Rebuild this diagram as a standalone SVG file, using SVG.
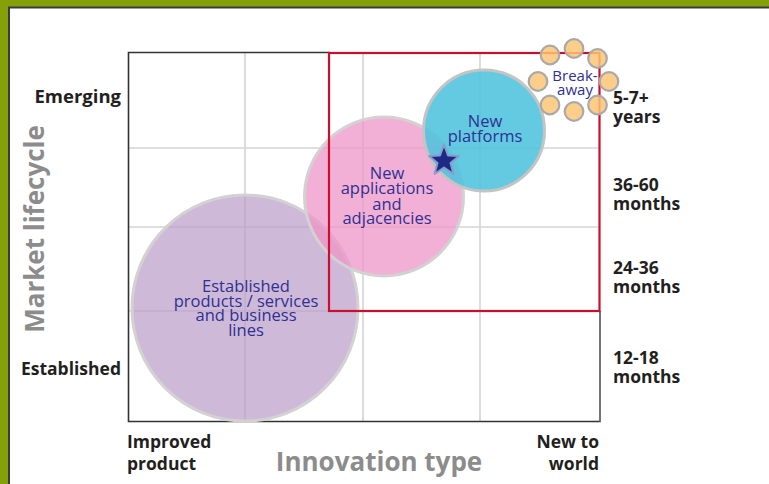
<svg xmlns="http://www.w3.org/2000/svg" width="769" height="484" viewBox="0 0 769 484">
  <style>
    .axis-label { font-family: "Open Sans", "Noto Sans", sans-serif; font-weight: 700; fill: #231f20; font-size: 17.5px; }
    .axis-title { font-family: "Open Sans", "Noto Sans", sans-serif; font-weight: 700; fill: #8c8c8c; font-size: 26px; }
    .bubble-text { font-family: "Open Sans", "Noto Sans", sans-serif; font-weight: 400; fill: #2e3192; font-size: 16.5px; text-anchor: middle; }
    .grid { stroke: #d4d4d4; stroke-width: 1.6; fill: none; }
    .bubble { stroke: #d2d2d2; stroke-width: 3; }
    .dot { fill: #fdc676; fill-opacity: 0.85; stroke: #a9a9a9; stroke-width: 2.2; }
  </style>

  <!-- page frame -->
  <rect x="0" y="0" width="769" height="484" fill="#86a009"/>
  <rect x="9" y="8" width="770" height="490" fill="#ffffff"/>
  <path d="M9 484 V7.5 H769" fill="none" stroke="#3c3c3c" stroke-width="2"/>

  <!-- grid -->
  <g id="grid">
    <line class="grid" x1="245" y1="53" x2="245" y2="421"/>
    <line class="grid" x1="363" y1="53" x2="363" y2="421"/>
    <line class="grid" x1="480" y1="53" x2="480" y2="421"/>
    <line class="grid" x1="128" y1="148" x2="600" y2="148"/>
    <line class="grid" x1="128" y1="227" x2="600" y2="227"/>
    <line class="grid" x1="128" y1="311" x2="600" y2="311"/>
  </g>

  <!-- plot frame -->
  <path d="M600 311 V421.5 H128.5 V52.5 H330" fill="none" stroke="#333333" stroke-width="1.6"/>
  <line x1="600" y1="311" x2="600" y2="421.5" stroke="#7a7a7a" stroke-width="1.6"/>

  <!-- bubbles -->
  <g id="established">
    <circle class="bubble" cx="245" cy="308" r="113" fill="#ba9bc8" fill-opacity="0.7"/>
    <text class="bubble-text" x="246" y="291.5">Established</text>
    <text class="bubble-text" x="246" y="306.5">products / services</text>
    <text class="bubble-text" x="246" y="321">and business</text>
    <text class="bubble-text" x="246" y="335.5">lines</text>
  </g>

  <g id="new-applications">
    <circle class="bubble" cx="384" cy="196.5" r="79.5" fill="#ef96c8" fill-opacity="0.75"/>
    <text class="bubble-text" x="387" y="178.5">New</text>
    <text class="bubble-text" x="387" y="194">applications</text>
    <text class="bubble-text" x="387" y="209.5">and</text>
    <text class="bubble-text" x="387" y="224">adjacencies</text>
  </g>

  <g id="new-platforms">
    <circle cx="484" cy="130.5" r="60.5" fill="#4fc3de" fill-opacity="0.88" stroke="#c4c4c4" stroke-width="3"/>
    <text class="bubble-text" x="485" y="127">New</text>
    <text class="bubble-text" x="485" y="141.5">platforms</text>
  </g>

  <!-- focus region -->
  <rect id="focus-region" x="329" y="53" width="270.5" height="258" fill="none" stroke="#c8102e" stroke-width="2.2"/>

  <!-- star marker -->
  <g id="star">
    <polygon points="444,144.5 448,155.5 459,156 450.5,163 453.5,174 444,167.5 434.5,174 437.5,163 429,156 440,155.5"
      fill="#1c2a85" stroke="#8a9ccc" stroke-width="2" stroke-linejoin="round"/>
  </g>

  <!-- break-away cluster -->
  <g id="break-away">
    <circle class="dot" cx="550" cy="55" r="9.3"/>
    <circle class="dot" cx="574" cy="48.5" r="9.3"/>
    <circle class="dot" cx="597.5" cy="58.5" r="9.3"/>
    <circle class="dot" cx="538" cy="81.5" r="9.3"/>
    <circle class="dot" cx="609" cy="81.5" r="9.3"/>
    <circle class="dot" cx="550" cy="105" r="9.3"/>
    <circle class="dot" cx="574" cy="111.5" r="9.3"/>
    <circle class="dot" cx="597.5" cy="105" r="9.3"/>
    <text class="bubble-text" x="575" y="80.5" style="font-size:15px">Break-</text>
    <text class="bubble-text" x="575" y="95" style="font-size:15px">away</text>
  </g>

  <!-- vertical axis -->
  <text class="axis-label" x="121" y="103" text-anchor="end" style="font-size:18.5px">Emerging</text>
  <text class="axis-label" x="121" y="375" text-anchor="end">Established</text>
  <text class="axis-title" transform="translate(44 229) rotate(-90)" text-anchor="middle">Market lifecycle</text>

  <!-- horizontal axis -->
  <text class="axis-label" x="127" y="448">Improved</text>
  <text class="axis-label" x="127" y="470">product</text>
  <text class="axis-label" x="599" y="448" text-anchor="end">New to</text>
  <text class="axis-label" x="599" y="470" text-anchor="end">world</text>
  <text class="axis-title" x="379" y="471" text-anchor="middle">Innovation type</text>

  <!-- time horizons -->
  <text class="axis-label" x="613" y="104">5-7+</text>
  <text class="axis-label" x="613" y="123">years</text>
  <text class="axis-label" x="613" y="191">36-60</text>
  <text class="axis-label" x="613" y="210">months</text>
  <text class="axis-label" x="613" y="273.5">24-36</text>
  <text class="axis-label" x="613" y="292.5">months</text>
  <text class="axis-label" x="613" y="363.5">12-18</text>
  <text class="axis-label" x="613" y="382.5">months</text>
</svg>
